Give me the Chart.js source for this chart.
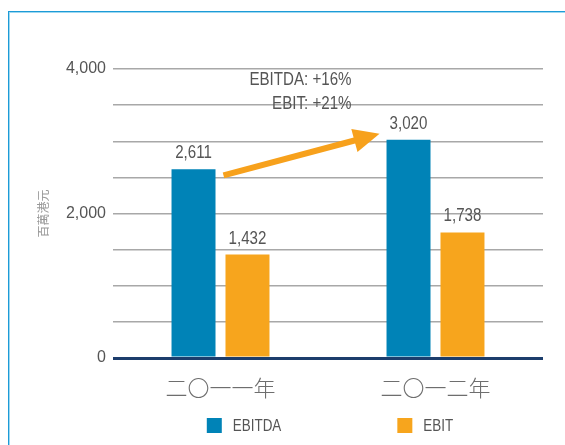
<!DOCTYPE html>
<html><head><meta charset="utf-8">
<script src="https://cdn.jsdelivr.net/npm/chart.js@4"></script>
<style>
html,body{margin:0;padding:0;background:#fff;}
#wrap{position:relative;width:565px;height:445px;overflow:hidden;}
#frame{position:absolute;left:8px;top:11px;width:600px;height:500px;border-top:1px solid #1d9bd7;border-left:1px solid #1d9bd7;box-shadow:inset 1px 1px 0 #9fd8f0;}
canvas{position:absolute;left:0;top:0;}
</style></head><body>
<div id="wrap"><div id="frame"></div><canvas id="c" width="565" height="445"></canvas></div>
<script>
const categories = ['二〇一一年', '二〇一二年'];
const seriesNames = ['EBITDA', 'EBIT'];
const ebitda = [2611, 3020];
const ebit = [1432, 1738];
const yLabeledTicks = [0, 2000, 4000];
const growthNotes = ['EBITDA: +16%', 'EBIT: +21%'];
const growthNoteValues = [3850, 3520];
const yTitle = '百萬港元';

const BLUE = '#0083b7', ORANGE = '#f7a51d', TEXT = '#555555';
const SANS = "'Liberation Sans', sans-serif";
const CJK = "'Noto Sans CJK TC', 'Noto Sans CJK SC', sans-serif";
const SQUEEZE = 0.84;

function narrowText(ctx, text, x, y, align) {
  ctx.save();
  ctx.translate(x, y);
  ctx.scale(SQUEEZE, 1);
  ctx.textAlign = align;
  ctx.fillText(text, 0, 0);
  ctx.restore();
}

const decorations = {
  id: 'decorations',
  afterDatasetsDraw(chart) {
    const ctx = chart.ctx;
    ctx.save();
    ctx.font = '18px ' + SANS;
    ctx.fillStyle = TEXT;
    ctx.textBaseline = 'alphabetic';
    chart.data.datasets.forEach((ds, i) => {
      chart.getDatasetMeta(i).data.forEach((el, j) => {
        narrowText(ctx, ds.data[j].toLocaleString('en-US'), el.x, el.y - 11, 'center');
      });
    });
    // growth arrow from 2011 EBITDA to 2012 EBITDA
    const m = chart.getDatasetMeta(0).data;
    const a = m[0], b = m[1];
    const x1 = a.x + a.width / 2 + 8, y1 = a.y + 6;
    const x2 = b.x - b.width / 2 - 7, y2 = b.y - 6;
    const ang = Math.atan2(y2 - y1, x2 - x1);
    const headLen = 26, headHalf = 12;
    const bx = x2 - headLen * Math.cos(ang), by = y2 - headLen * Math.sin(ang);
    ctx.strokeStyle = '#f7a11c';
    ctx.fillStyle = '#f7a11c';
    ctx.lineWidth = 6;
    ctx.beginPath();
    ctx.moveTo(x1, y1);
    ctx.lineTo(bx + 2 * Math.cos(ang), by + 2 * Math.sin(ang));
    ctx.stroke();
    ctx.beginPath();
    ctx.moveTo(x2, y2);
    ctx.lineTo(bx + headHalf * Math.sin(ang), by - headHalf * Math.cos(ang));
    ctx.lineTo(bx - headHalf * Math.sin(ang), by + headHalf * Math.cos(ang));
    ctx.closePath();
    ctx.fill();
    // growth notes
    const ys = chart.scales.y;
    ctx.fillStyle = TEXT;
    ctx.font = '18px ' + SANS;
    ctx.textBaseline = 'middle';
    const nx = x2 - 28;
    growthNotes.forEach((t, i) => narrowText(ctx, t, nx, ys.getPixelForValue(growthNoteValues[i]), 'right'));
    ctx.restore();
  },
  afterDraw(chart) {
    // legend below the category labels
    const ctx = chart.ctx;
    const xs = chart.scales.x;
    const ca = chart.chartArea;
    const y = xs.bottom + 18;
    const items = chart.data.datasets.map(d => ({ text: d.label, color: d.backgroundColor }));
    const box = 15, gap = 11, spacing = 116;
    ctx.save();
    ctx.font = '16px ' + SANS;
    const widths = items.map(it => box + gap + ctx.measureText(it.text).width * SQUEEZE);
    const total = widths.reduce((s, w) => s + w, 0) + spacing * (items.length - 1);
    let x = (ca.left + ca.right) / 2 - total / 2 + 2;
    ctx.textBaseline = 'middle';
    items.forEach((it, i) => {
      ctx.fillStyle = it.color;
      ctx.fillRect(x, y, box, box);
      ctx.fillStyle = TEXT;
      narrowText(ctx, it.text, x + box + gap, y + box / 2 + 1, 'left');
      x += widths[i] + spacing;
    });
    ctx.restore();
  }
};

new Chart(document.getElementById('c'), {
  type: 'bar',
  data: {
    labels: categories,
    datasets: [
      { label: seriesNames[0], data: ebitda, backgroundColor: BLUE, categoryPercentage: 0.502, barPercentage: 0.815 },
      { label: seriesNames[1], data: ebit, backgroundColor: ORANGE, categoryPercentage: 0.502, barPercentage: 0.815 }
    ]
  },
  options: {
    responsive: false,
    devicePixelRatio: 1,
    animation: false,
    layout: { padding: { top: 69, right: 22, left: 0, bottom: 45 } },
    plugins: {
      tooltip: { enabled: false },
      legend: { display: false }
    },
    scales: {
      x: {
        grid: { display: false },
        border: { display: false },
        ticks: { color: '#6e6e6e', font: { family: CJK, size: 22, weight: '300' }, padding: 8 },
        afterFit: s => { s.height = 42; }
      },
      y: {
        min: 0, max: 4000,
        border: { display: false },
        grid: {
          drawTicks: false,
          color: c => c.tick && c.tick.value === 0 ? '#1c3d6c' : '#a8a8a8',
          lineWidth: c => c.tick && c.tick.value === 0 ? 3 : 1.5
        },
        ticks: {
          stepSize: 500,
          padding: 7,
          color: TEXT,
          font: { family: SANS, size: 16 },
          callback: v => yLabeledTicks.includes(v) ? v.toLocaleString('en-US') : ''
        },
        title: {
          display: true, text: yTitle, color: '#999',
          font: { family: CJK, size: 12 },
          padding: { top: 36, bottom: 0 }
        },
        afterFit: s => { s.width = 113; }
      }
    }
  },
  plugins: [decorations]
});
</script>
</body></html>
